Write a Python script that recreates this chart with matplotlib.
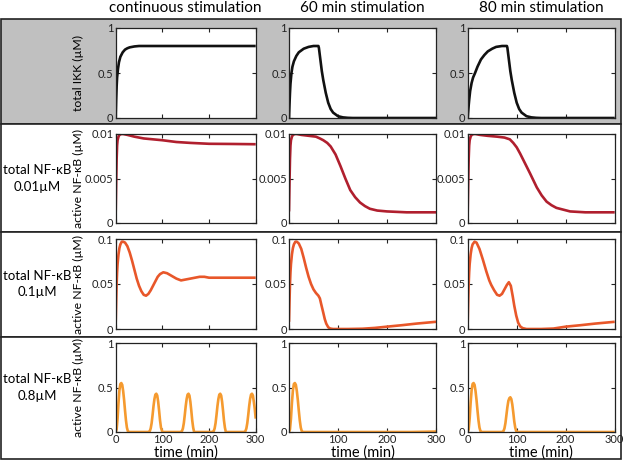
import numpy as np
import matplotlib
matplotlib.use("Agg")
import matplotlib.pyplot as plt
from matplotlib.patches import Rectangle

plt.rcParams['font.family'] = ['Lato', 'DejaVu Sans']

col_titles = ["continuous stimulation", "60 min stimulation", "80 min stimulation"]
row_labels = ["total NF-\u03baB\n0.01\u00b5M", "total NF-\u03baB\n0.1\u00b5M", "total NF-\u03baB\n0.8\u00b5M"]
xticks = [0, 100, 200, 300]

# row 0 : total IKK
ikk_cont_t = [0, 1, 2, 3, 5, 7, 10, 15, 20, 25, 30, 40, 50, 60, 300]
ikk_cont_v = [0, 0.2, 0.35, 0.45, 0.55, 0.62, 0.68, 0.73, 0.76, 0.775, 0.785, 0.795, 0.8, 0.8, 0.8]
ikk_60_t = [0, 1, 2, 3, 5, 7, 10, 15, 20, 30, 40, 50, 60, 61, 64, 67, 70, 75, 80, 85, 90, 100, 110, 120, 130, 300]
ikk_60_v = [0, 0.15, 0.28, 0.38, 0.5, 0.57, 0.63, 0.69, 0.73, 0.77, 0.79, 0.8, 0.8, 0.78, 0.65, 0.52, 0.42, 0.28, 0.17, 0.1, 0.06, 0.02, 0.007, 0.002, 0, 0]
ikk_80_t = [0, 1, 2, 3, 5, 8, 11, 15, 20, 27, 34, 41, 50, 58, 70, 80, 81, 84, 87, 90, 95, 100,
            105, 110, 120, 130, 140, 150, 300]
ikk_80_v = [0, 0.07, 0.14, 0.2, 0.3, 0.39, 0.45, 0.5, 0.57, 0.65, 0.7, 0.74, 0.77, 0.79, 0.8, 0.8,
            0.78, 0.65, 0.52, 0.42, 0.28, 0.17, 0.1, 0.06, 0.02, 0.007, 0.002, 0, 0]

# row 1 : total NF-kB 0.01 uM
nf1_cont_t = [0, 1, 2, 3, 4, 6, 8, 12, 16, 25, 40, 60, 80, 100, 130, 160, 200, 250, 300]
nf1_cont_v = [0.0013, 0.0045, 0.0072, 0.0087, 0.0093, 0.0097, 0.0099, 0.01, 0.01, 0.0099, 0.0097,
              0.0095, 0.0094, 0.0093, 0.0091, 0.009, 0.0089, 0.00888, 0.00885]
nf1_60_t = [0, 1, 2, 3, 4, 6, 8, 12, 16, 25, 40, 55, 63, 70, 78, 85, 95, 105, 115, 125, 135, 145,
            155, 165, 180, 200, 240, 300]
nf1_60_v = [0.0013, 0.0045, 0.0072, 0.0087, 0.0093, 0.0097, 0.0099, 0.01, 0.01, 0.0099, 0.0098,
            0.0097, 0.0095, 0.0093, 0.009, 0.0086, 0.0077, 0.0064, 0.005, 0.0037, 0.0029, 0.0023,
            0.0019, 0.0016, 0.0014, 0.0013, 0.0012, 0.0012]
nf1_80_t = [0, 1, 2, 3, 4, 6, 8, 12, 16, 25, 40, 60, 75, 86, 93, 100, 107, 117, 127, 134, 141, 151,
            161, 171, 181, 195, 209, 240, 300]
nf1_80_v = [0.0013, 0.0045, 0.0072, 0.0087, 0.0093, 0.0097, 0.0099, 0.01, 0.01, 0.0099, 0.0098,
            0.0097, 0.0096, 0.0094, 0.009, 0.0085, 0.0078, 0.0067, 0.0056, 0.0048, 0.004, 0.0031,
            0.0024, 0.002, 0.0017, 0.0015, 0.0013, 0.0012, 0.0012]

# row 2 : total NF-kB 0.1 uM
nf2_cont_t = [0, 1, 2, 3, 4, 6, 8, 10, 13, 16, 20, 25, 30, 35, 40, 45, 50, 55, 60, 65, 70, 75, 80,
              85, 90, 95, 102, 110, 120, 130, 140, 150, 160, 170, 180, 190, 200, 220, 250, 300]
nf2_cont_v = [0.008, 0.03, 0.05, 0.063, 0.072, 0.083, 0.09, 0.094, 0.097, 0.097, 0.096, 0.092,
              0.085, 0.076, 0.066, 0.056, 0.048, 0.042, 0.038, 0.037, 0.039, 0.043, 0.048, 0.053,
              0.058, 0.061, 0.063, 0.062, 0.059, 0.056, 0.054, 0.055, 0.056, 0.057, 0.058, 0.058,
              0.057, 0.057, 0.057, 0.057]
nf2_60_t = [0, 1, 2, 3, 4, 6, 8, 10, 13, 16, 20, 25, 30, 35, 40, 45, 50, 55, 60, 63, 66, 70, 73,
            76, 80, 84, 90, 100, 120, 150, 175, 200, 230, 260, 300]
nf2_60_v = [0.008, 0.03, 0.05, 0.063, 0.072, 0.083, 0.09, 0.094, 0.097, 0.097, 0.095, 0.089,
            0.079, 0.068, 0.058, 0.05, 0.044, 0.04, 0.037, 0.034, 0.027, 0.018, 0.011, 0.006,
            0.002, 0.0005, 0, 0, 0, 0.0003, 0.0012, 0.0026, 0.0042, 0.006, 0.008]
nf2_80_t = [0, 1, 2, 3, 4, 6, 8, 10, 14, 18, 24, 31, 38, 44, 48, 54, 60, 65, 70, 75, 80, 84, 88,
            92, 95, 99, 103, 107, 112, 120, 150, 175, 200, 230, 260, 300]
nf2_80_v = [0.008, 0.03, 0.05, 0.063, 0.072, 0.083, 0.09, 0.094, 0.097, 0.096, 0.089, 0.077,
            0.064, 0.054, 0.049, 0.043, 0.038, 0.037, 0.039, 0.044, 0.049, 0.052, 0.048, 0.036,
            0.026, 0.015, 0.007, 0.003, 0.001, 0, 0, 0.0005, 0.0026, 0.0042, 0.006, 0.008]

# row 3 : total NF-kB 0.8 uM
nf3_cont_t = [0, 2, 4, 6, 8, 10, 12, 14, 16, 18, 20, 22, 24, 26, 28,
              71, 73, 75, 77, 79, 81, 83, 85, 87, 89, 91, 93, 95, 97, 100,
              140, 142, 144, 146, 148, 150, 152, 154, 156, 158, 160, 162, 164, 166, 168,
              208, 210, 212, 214, 216, 218, 220, 222, 224, 226, 228, 230, 232, 234, 236,
              276, 278, 280, 282, 284, 286, 288, 290, 292, 294, 296, 298, 300]
nf3_cont_v = [0, 0.03, 0.15, 0.33, 0.47, 0.54, 0.55, 0.53, 0.46, 0.36, 0.24, 0.13, 0.05, 0.01, 0,
              0, 0.01, 0.04, 0.1, 0.19, 0.29, 0.37, 0.42, 0.43, 0.41, 0.34, 0.24, 0.13, 0.05, 0,
              0, 0.01, 0.04, 0.1, 0.19, 0.29, 0.37, 0.42, 0.43, 0.41, 0.34, 0.24, 0.13, 0.05, 0,
              0, 0.01, 0.04, 0.1, 0.19, 0.29, 0.37, 0.42, 0.43, 0.41, 0.34, 0.24, 0.13, 0.05, 0,
              0, 0.01, 0.04, 0.1, 0.19, 0.29, 0.37, 0.42, 0.43, 0.41, 0.34, 0.26, 0.15]
nf3_60_t = [0, 2, 4, 6, 8, 10, 12, 14, 16, 18, 20, 22, 24, 26, 28, 250, 300]
nf3_60_v = [0, 0.03, 0.15, 0.33, 0.47, 0.54, 0.55, 0.53, 0.46, 0.36, 0.24, 0.13, 0.05, 0.01, 0, 0, 0.005]
nf3_80_t = [0, 2, 4, 6, 8, 10, 12, 14, 16, 18, 20, 22, 24, 26, 28,
            71, 73, 75, 77, 79, 81, 83, 85, 87, 89, 91, 93, 95, 97, 99, 101, 300]
nf3_80_v = [0, 0.03, 0.15, 0.33, 0.47, 0.54, 0.55, 0.53, 0.46, 0.36, 0.24, 0.13, 0.05, 0.01, 0,
            0, 0.01, 0.04, 0.1, 0.19, 0.28, 0.35, 0.38, 0.39, 0.37, 0.31, 0.22, 0.12, 0.05, 0.01, 0, 0]

curves = [
    [(ikk_cont_t, ikk_cont_v), (ikk_60_t, ikk_60_v), (ikk_80_t, ikk_80_v)],
    [(nf1_cont_t, nf1_cont_v), (nf1_60_t, nf1_60_v), (nf1_80_t, nf1_80_v)],
    [(nf2_cont_t, nf2_cont_v), (nf2_60_t, nf2_60_v), (nf2_80_t, nf2_80_v)],
    [(nf3_cont_t, nf3_cont_v), (nf3_60_t, nf3_60_v), (nf3_80_t, nf3_80_v)],
]
row_colors = ["#111111", "#b01f2e", "#e8572a", "#f59a2f"]
row_ylim = [1, 0.01, 0.1, 1]
row_yticks = [[0, 0.5, 1], [0, 0.005, 0.01], [0, 0.05, 0.1], [0, 0.5, 1]]
row_yticklabels = [["0", "0.5", "1"], ["0", "0.005", "0.01"], ["0", "0.05", "0.1"], ["0", "0.5", "1"]]
row_ylabels = ["total IKK (\u00b5M)", "active NF-\u03baB (\u00b5M)", "active NF-\u03baB (\u00b5M)", "active NF-\u03baB (\u00b5M)"]
bottom_xticklabels = [["0", "100", "200", "300"], ["", "100", "200", "300"], ["0", "100", "200", "300"]]

W, H = 623, 462
fig = plt.figure(figsize=(W / 100, H / 100), dpi=100)

# panel frames in pixels
col_x = [(115.7, 140), (289, 147), (467.7, 147)]
row_y = [(28, 90), (134, 89), (239, 90), (343, 89)]
band_y = [19, 123.5, 231.5, 336.5, 459]

bg = fig.add_axes([0, 0, 1, 1], zorder=-1)
bg.set_xlim(0, W)
bg.set_ylim(H, 0)
bg.axis("off")
bg.add_patch(Rectangle((0.5, band_y[0]), 620, band_y[1] - band_y[0], facecolor="#c0c0c0",
                       edgecolor="#222222", lw=1.2))
for i in range(1, 4):
    bg.add_patch(Rectangle((0.5, band_y[i]), 620, band_y[i + 1] - band_y[i], facecolor="white",
                           edgecolor="#222222", lw=1.2))

for c, title in enumerate(col_titles):
    x0, w = col_x[c]
    fig.text((x0 + w / 2) / W, 1 - 8.5 / H, title, ha="center", va="center", fontsize=11)

for r in range(4):
    y0, h = row_y[r]
    if r > 0:
        fig.text(37 / W, 1 - (y0 + h / 2) / H, row_labels[r - 1], ha="center", va="center",
                 fontsize=9.5, linespacing=1.45)
    for c in range(3):
        x0, w = col_x[c]
        ax = fig.add_axes([x0 / W, 1 - (y0 + h) / H, w / W, h / H])
        t, v = curves[r][c]
        ax.plot(t, v, color=row_colors[r], lw=1.9, solid_capstyle="butt")
        ax.set_xlim(0, 300)
        ax.set_ylim(0, row_ylim[r])
        ax.set_xticks(xticks)
        ax.set_yticks(row_yticks[r])
        ax.set_yticklabels(row_yticklabels[r])
        ax.tick_params(direction="in", top=True, right=True, length=3, width=0.8,
                       labelsize=8, pad=1.5, colors="#222222")
        for s in ax.spines.values():
            s.set_linewidth(0.9)
            s.set_color("#222222")
        if r == 3:
            ax.set_xticklabels(bottom_xticklabels[c])
            ax.set_xlabel("time (min)", fontsize=10.5, labelpad=0)
        else:
            ax.set_xticklabels([])
        if c == 0:
            ax.set_ylabel(row_ylabels[r], fontsize=8.8, va="center")
            ax.yaxis.set_label_coords(-0.265, 0.5)

fig.savefig("out.png", dpi=100)
